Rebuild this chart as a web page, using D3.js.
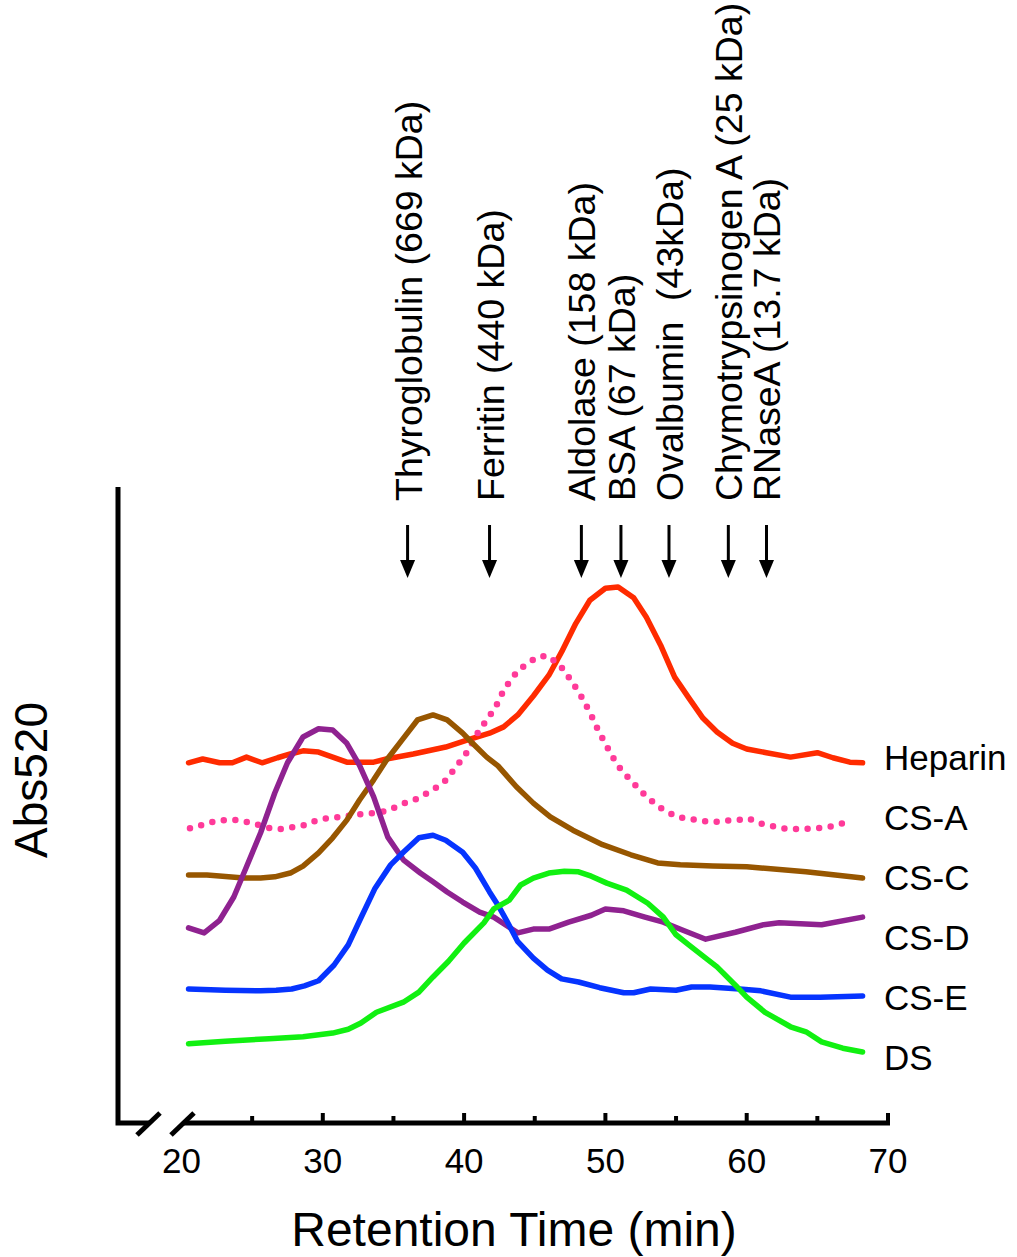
<!DOCTYPE html>
<html>
<head>
<meta charset="utf-8">
<script src="https://cdn.jsdelivr.net/npm/d3@7"></script>
<style>
body { margin: 0; background: #fff; }
text { font-family: "Liberation Sans", Arial, Helvetica, sans-serif; fill: #000; }
</style>
</head>
<body>
<div id="chart"></div>
<script>
// retention time (min), absorbance (arbitrary units, traces offset)
let heparin = [[20.5,56.7],[21.5,57.3],[22.7,56.7],[23.6,56.7],[24.6,57.6],[25.7,56.7],[26.8,57.5],[27.7,58.1],
    [28.6,58.6],[29.7,58.4],[30.7,57.6],[31.7,56.8],[33.6,56.8],[34.5,57.3],[36.4,58.1],[38.7,59.2],[40.2,60.3],
    [41.8,61.4],[42.8,62.4],[43.8,64.3],[44.9,67.3],[46.0,70.6],[46.9,74.3],[47.9,78.8],[48.9,82.5],
    [50.0,84.4],[50.9,84.6],[52.0,82.9],[52.9,79.8],[53.9,75.4],[54.9,70.3],[55.9,67.0],[56.9,63.8],[57.9,61.6],
    [59.0,59.8],[60.0,58.9],[61.4,58.3],[63.1,57.6],[65.0,58.3],[66.1,57.5],[67.3,56.8],[68.2,56.7]];

let csA = [[20.6,46.3],[21.4,46.8],[22.2,47.3],[23.0,47.6],[23.9,47.6],[24.6,47.3],[25.5,46.8],[26.3,46.3],
    [27.0,46.2],[27.9,46.5],[28.7,46.8],[29.5,47.5],[30.3,47.9],[31.2,48.1],[31.9,48.3],[32.8,48.6],[33.6,48.7],
    [34.4,49.0],[35.2,49.7],[36.0,50.5],[36.7,51.0],[37.4,51.9],[38.2,53.0],[38.8,54.1],[39.3,55.7],[39.8,57.1],
    [40.3,58.7],[40.7,60.5],[41.1,61.9],[41.6,63.5],[42.1,65.1],[42.5,66.7],[42.8,68.3],[43.3,69.8],[43.8,71.3],
    [44.5,72.5],[45.2,73.5],[45.9,73.7],[46.6,72.5],[47.2,71.1],[47.6,69.5],[48.1,68.1],[48.5,66.3],[48.9,64.8],
    [49.2,63.2],[49.6,61.4],[50.0,59.7],[50.4,58.1],[50.8,56.5],[51.3,55.1],[51.9,53.7],[52.5,52.2],[53.1,51.0],
    [53.7,49.8],[54.4,48.9],[55.1,48.1],[56.0,47.8],[56.8,47.5],[57.6,47.3],[58.5,47.5],[59.3,47.6],[60.1,47.9],
    [60.9,47.1],[61.7,46.7],[62.5,46.3],[63.3,46.2],[64.1,46.2],[65.0,46.3],[65.8,46.5],[66.6,47.0],[67.4,47.3]];

let csC = [[20.5,38.9],[21.8,38.9],[22.9,38.7],[24.4,38.4],[25.6,38.4],[26.6,38.6],[27.7,39.2],[28.6,40.3],
    [29.7,42.4],[30.7,44.8],[31.7,47.6],[32.6,50.8],[33.6,54.0],[34.5,57.1],[35.6,60.3],[36.7,63.5],[37.8,64.3],
    [38.8,63.5],[39.9,61.4],[40.6,59.8],[41.6,57.6],[42.4,56.2],[43.7,52.9],[44.9,50.3],[46.1,48.1],[47.7,46.0],
    [49.8,43.7],[51.8,42.1],[53.7,40.8],[55.3,40.5],[57.6,40.3],[60.0,40.2],[61.0,40.0],[64.2,39.4],[68.2,38.4]];

let csD = [[20.5,30.5],[21.6,29.7],[22.7,31.7],[23.7,35.4],[24.6,40.2],[25.6,45.6],[26.6,51.9],[27.5,56.7],
    [28.6,60.8],[29.7,62.1],[30.7,61.9],[31.7,59.8],[32.6,56.3],[33.6,51.3],[34.6,44.9],[35.7,41.3],[36.9,39.2],
    [37.8,37.8],[38.8,36.2],[39.9,34.6],[41.1,33.0],[42.1,32.2],[43.8,29.7],[44.9,30.3],[46.0,30.3],[47.4,31.4],
    [49.0,32.5],[50.0,33.5],[51.3,33.2],[52.8,32.2],[54.1,31.4],[55.4,30.2],[57.1,28.7],[59.2,29.8],[61.2,31.0],
    [62.3,31.3],[65.3,31.0],[68.2,32.2]];

let csE = [[20.5,20.8],[23.1,20.6],[25.6,20.5],[26.7,20.6],[27.8,20.8],[28.7,21.3],[29.7,22.1],[30.8,24.6],
    [31.8,27.8],[32.7,32.1],[33.7,36.8],[34.8,40.5],[35.7,42.5],[36.8,44.8],[37.8,45.2],[38.7,44.4],[39.9,42.5],
    [40.8,40.0],[41.8,36.2],[42.4,34.1],[43.0,31.7],[43.8,28.3],[44.9,25.7],[45.9,23.8],[46.9,22.4],[48.1,21.9],
    [49.6,21.0],[51.3,20.2],[52.0,20.2],[53.2,20.8],[55.0,20.6],[56.1,21.1],[57.4,21.1],[59.5,20.8],[61.0,20.5],
    [63.1,19.5],[65.2,19.5],[68.2,19.7]];

let ds = [[20.5,12.1],[23.1,12.5],[26.2,12.9],[28.6,13.2],[30.7,13.8],[31.8,14.4],[32.7,15.4],[33.8,17.1],
    [35.7,18.7],[36.8,20.3],[37.8,22.7],[38.9,25.2],[40.0,28.1],[41.4,31.3],[42.1,33.5],[43.2,34.9],[44.0,37.3],
    [44.9,38.4],[46.0,39.2],[47.1,39.5],[48.1,39.4],[49.0,38.7],[50.1,37.6],[51.5,36.5],[53.0,34.4],[54.1,32.2],
    [55.0,29.4],[55.9,27.8],[57.1,25.7],[57.9,24.3],[59.2,21.4],[60.0,19.5],[61.3,17.1],[63.1,14.8],[64.2,14.0],
    [65.3,12.4],[66.8,11.4],[68.2,10.8]];

let seriesNames = ['Heparin', 'CS-A', 'CS-C', 'CS-D', 'CS-E', 'DS'];
let seriesData = [heparin, csA, csC, csD, csE, ds];
let seriesColors = ['#ff2b00', '#ff3a99', '#975600', '#8f2290', '#0634ff', '#11f011'];

let markerNames = ['Thyroglobulin (669 kDa)', 'Ferritin (440 kDa)', 'Aldolase (158 kDa)', 'BSA (67 kDa)',
    'Ovalbumin  (43kDa)', 'Chymotrypsinogen A (25 kDa)', 'RNaseA (13.7 kDa)'];
let markerTimes = [36.0, 41.8, 48.3, 51.1, 54.5, 58.7, 61.4];

let tickLabels = [20, 30, 40, 50, 60, 70];
let majorTicks = [30, 40, 50, 60, 70];
let minorTicks = [25, 35, 45, 55, 65];

let width = 1017, height = 1257;
let svg = d3.select('#chart').append('svg')
    .attr('width', width)
    .attr('height', height);

let x = d3.scaleLinear().domain([20, 70]).range([181.5, 888]);
let y = d3.scaleLinear().domain([0, 100]).range([1120, 490]);

let axisY = 1123, axisX = 118;

// axes
let axes = svg.append('g').attr('stroke', '#000').attr('fill', 'none');
axes.append('path')
    .attr('stroke-width', 5)
    .attr('d', `M${axisX},487V${axisY}H150`);
axes.append('line')
    .attr('stroke-width', 5)
    .attr('x1', 183).attr('x2', 890)
    .attr('y1', axisY).attr('y2', axisY);
// axis break
axes.selectAll('.brk')
    .data([149, 183])
    .enter().append('line')
    .attr('stroke-width', 5)
    .attr('x1', d => d - 12).attr('y1', axisY + 12)
    .attr('x2', d => d + 11).attr('y2', axisY - 10);

axes.selectAll('.major')
    .data(majorTicks)
    .enter().append('line')
    .attr('stroke-width', 4)
    .attr('x1', d => x(d)).attr('x2', d => x(d))
    .attr('y1', axisY).attr('y2', axisY - 10);
axes.selectAll('.minor')
    .data(minorTicks)
    .enter().append('line')
    .attr('stroke-width', 4)
    .attr('x1', d => x(d)).attr('x2', d => x(d))
    .attr('y1', axisY).attr('y2', axisY - 7);

svg.append('g').selectAll('text')
    .data(tickLabels)
    .enter().append('text')
    .attr('x', d => x(d))
    .attr('y', 1173)
    .attr('text-anchor', 'middle')
    .attr('font-size', 35)
    .text(d => d);

svg.append('text')
    .attr('x', 514).attr('y', 1246)
    .attr('text-anchor', 'middle')
    .attr('font-size', 48)
    .text('Retention Time (min)');

svg.append('text')
    .attr('transform', 'translate(47,780) rotate(-90)')
    .attr('text-anchor', 'middle')
    .attr('font-size', 46)
    .text('Abs520');

// traces
let line = d3.line().x(d => x(d[0])).y(d => y(d[1]));

svg.append('g').selectAll('path')
    .data(seriesData)
    .enter().append('path')
    .attr('d', line)
    .attr('fill', 'none')
    .attr('stroke', (d, i) => seriesColors[i])
    .attr('stroke-width', (d, i) => i === 1 ? 6.5 : 5.5)
    .attr('stroke-linejoin', 'round')
    .attr('stroke-linecap', 'round')
    .attr('stroke-dasharray', (d, i) => i === 1 ? '0 11.6' : null);

svg.append('g').selectAll('text')
    .data(seriesNames)
    .enter().append('text')
    .attr('x', 884)
    .attr('y', (d, i) => 770 + i * 60)
    .attr('font-size', 35)
    .text(d => d);

// standards
let marks = svg.append('g');
marks.selectAll('line')
    .data(markerTimes)
    .enter().append('line')
    .attr('stroke', '#000')
    .attr('stroke-width', 3)
    .attr('x1', d => x(d)).attr('x2', d => x(d))
    .attr('y1', 525).attr('y2', 564);
marks.selectAll('path')
    .data(markerTimes)
    .enter().append('path')
    .attr('fill', '#000')
    .attr('d', d => `M${x(d) - 7.5},560L${x(d) + 7.5},560L${x(d)},578Z`);
marks.selectAll('text')
    .data(markerNames)
    .enter().append('text')
    .attr('transform', (d, i) => `translate(${x(markerTimes[i]) + 14},501) rotate(-90)`)
    .attr('font-size', 37.5)
    .style('white-space', 'pre')
    .text(d => d);
</script>
</body>
</html>
